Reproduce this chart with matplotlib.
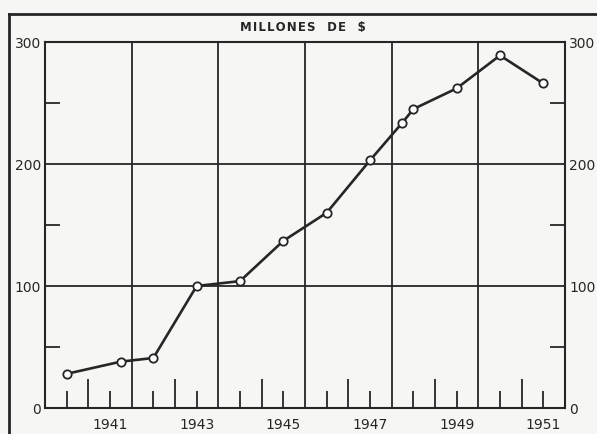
import matplotlib
matplotlib.use("Agg")
import matplotlib.pyplot as plt
from matplotlib.lines import Line2D

# Data
years = [1940, 1941.25, 1942, 1943, 1944, 1945, 1946, 1947, 1947.75, 1948, 1949, 1950, 1951]
values = [28, 38, 41, 100, 104, 137, 160, 203, 234, 245, 262, 289, 266]
year_ticks = list(range(1940, 1952))
year_labels = [str(y) if y % 2 == 1 else "" for y in year_ticks]
y_major = [0, 100, 200, 300]
y_minor = [50, 150, 250]
title = "MILLONES  DE  $"

ink = "#262626"
bg = "#f6f6f4"
fam = "DejaVu Sans"

fig = plt.figure(figsize=(5.97, 4.34), dpi=100, facecolor=bg)
ax = fig.add_axes([45/597, 1-408/434, (565-45)/597, (408-42)/434], facecolor=bg)

ax.set_xlim(1939.5, 1951.5)
ax.set_ylim(0, 300)

# grid lines
for gx in [1941.5, 1943.5, 1945.5, 1947.5, 1949.5]:
    ax.axvline(gx, color=ink, lw=1.3, zorder=1)
for gy in [100, 200]:
    ax.axhline(gy, color=ink, lw=1.3, zorder=1)

ax.plot(years, values, color=ink, lw=1.9, marker="o", ms=6,
        mfc="white", mec=ink, mew=1.3, zorder=3)

for s in ax.spines.values():
    s.set_color(ink)
    s.set_linewidth(1.5)

ax.set_xticks(year_ticks)
ax.set_xticklabels(year_labels, family=fam, fontsize=10, color=ink)
ax.set_xticks([1940.5, 1942.5, 1944.5, 1946.5, 1948.5, 1950.5], minor=True)
ax.tick_params(axis="x", which="major", direction="in", length=12, width=1.3,
               color=ink, pad=7)
ax.tick_params(axis="x", which="minor", direction="in", length=21, width=1.3,
               color=ink)

ax.set_yticks(y_major)
ax.set_yticklabels([str(v) for v in y_major], family=fam, fontsize=10,
                   color=ink)
ax.set_yticks(y_minor, minor=True)
ax.tick_params(axis="y", which="major", length=0, left=True, right=True,
               labelleft=True, labelright=True, pad=3)
ax.tick_params(axis="y", which="minor", direction="in", length=11, width=1.3,
               left=True, right=True, color=ink)

spaced = "\u200a".join(title)
fig.text(0.508, 1-27/434, spaced, ha="center", va="center", fontsize=8.5,
         fontweight="bold", color=ink, family="DejaVu Sans")

# outer frame of the scanned figure
fig.add_artist(Line2D([9/597, 9/597], [0, 1-14/434], transform=fig.transFigure,
                      color=ink, lw=2))
fig.add_artist(Line2D([9/597, 1], [1-14/434, 1-14/434], transform=fig.transFigure,
                      color=ink, lw=2))

fig.savefig("out.png", dpi=100, facecolor=bg)
